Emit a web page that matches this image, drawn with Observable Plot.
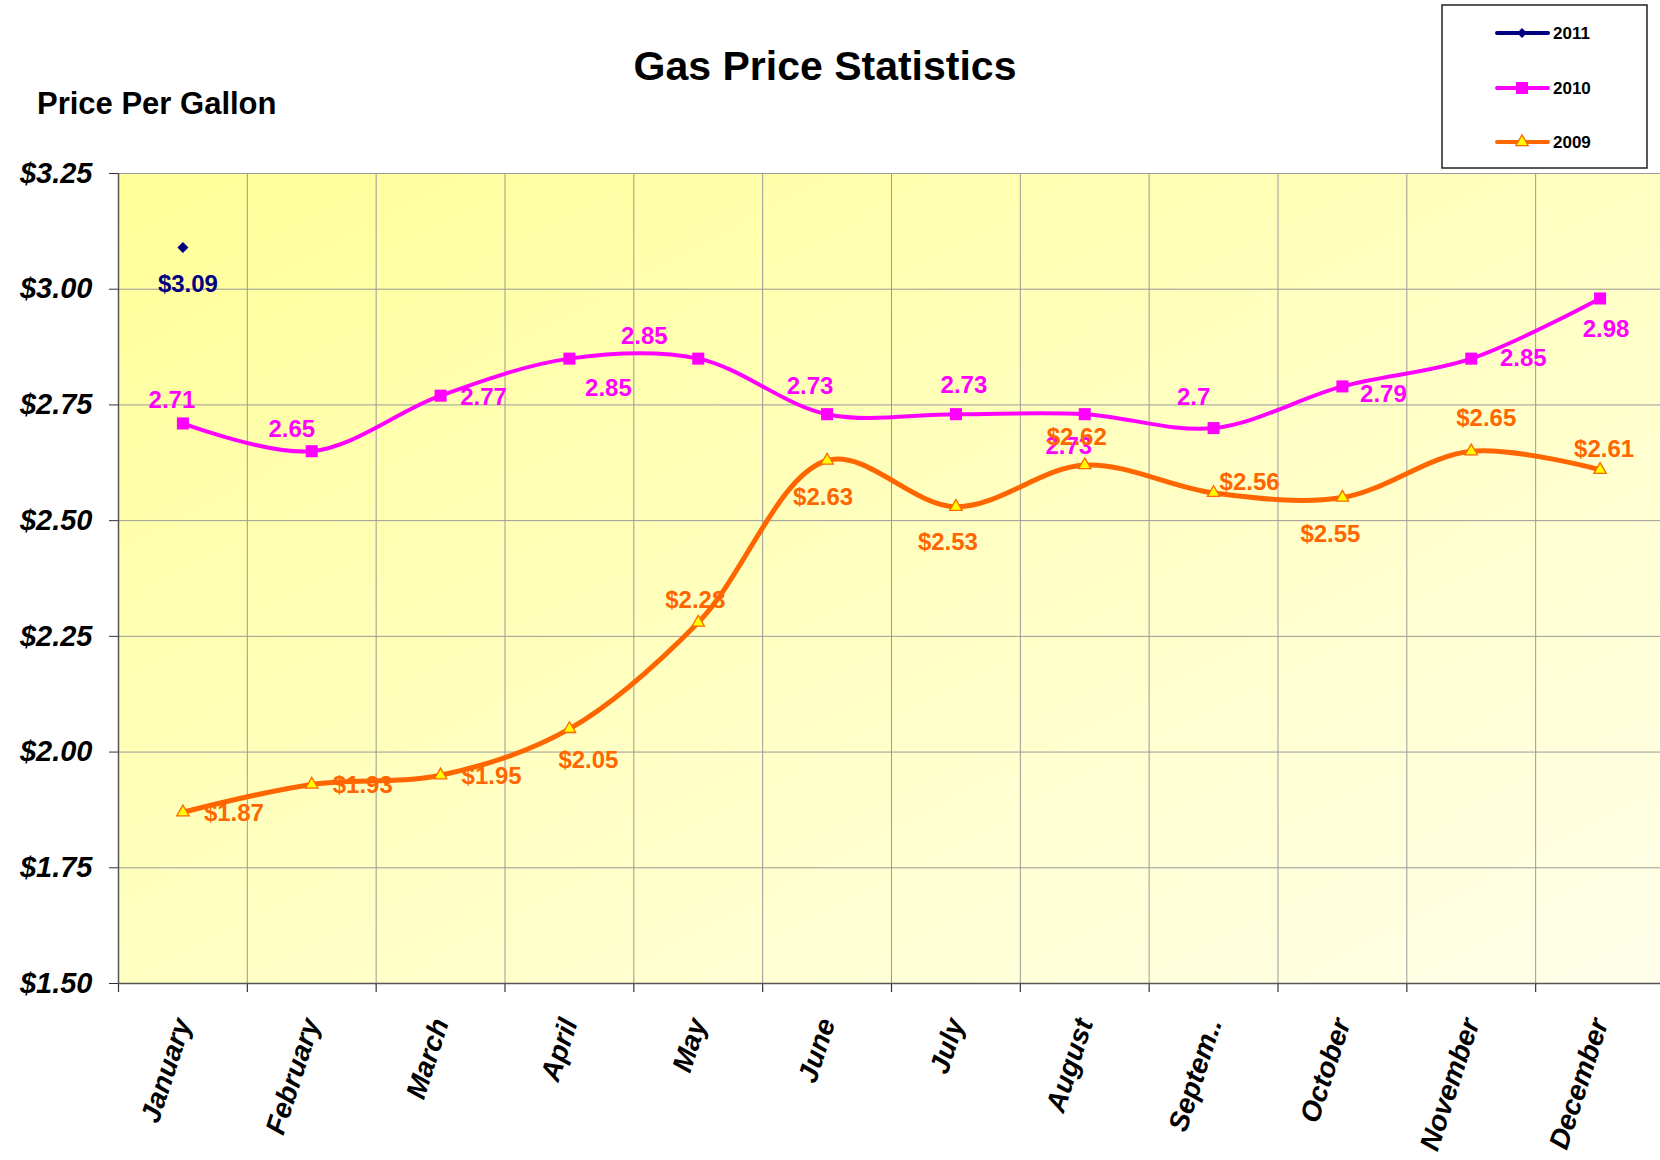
<!DOCTYPE html>
<html>
<head>
<meta charset="utf-8">
<script src="https://cdn.jsdelivr.net/npm/d3@7"></script>
<script src="https://cdn.jsdelivr.net/npm/@observablehq/plot@0.6"></script>
<style>
  body { margin: 0; background: #fff; overflow: hidden; }
  #chart svg { display: block; }
</style>
</head>
<body>
<div id="chart"></div>
<script>
// ---------- data ----------
const months = ["January","February","March","April","May","June","July","August","September","October","November","December"];
const monthLabels = ["January","February","March","April","May","June","July","August","Septem..","October","November","December"];
const months2011 = ["January"];
const prices2011 = [3.09];
const prices2010 = [2.71, 2.65, 2.77, 2.85, 2.85, 2.73, 2.73, 2.73, 2.7, 2.79, 2.85, 2.98];
const prices2009 = [1.87, 1.93, 1.95, 2.05, 2.28, 2.63, 2.53, 2.62, 2.56, 2.55, 2.65, 2.61];
const yTicks = [1.5, 1.75, 2.0, 2.25, 2.5, 2.75, 3.0, 3.25];
const seriesNames = ["2011", "2010", "2009"];

// ---------- styling / label placement (kept apart from the data) ----------
const colors = { "2011": "#000080", "2010": "#FF00FF", "2009": "#FF6600" };
const labelOffsets2011 = [[5, 37]];
const labelOffsets2010 = [[-11,-23],[-20,-22],[43,2],[39,30],[-54,-22],[-17,-28],[8,-29],[-16,32],[-20,-31],[41,8],[52,0],[6,31]];
const labelOffsets2009 = [[51,1],[51,1],[51,1],[19,31],[-3,-22],[-4,37],[-8,36],[-8,-28],[36,-11],[-12,37],[15,-33],[4,-20]];

const W = 1660, H = 1160;
const mL = 118, mR = -4, mT = 173, mB = 177;
const bw = (W - mL - mR) / months.length;
const FONT = "Liberation Sans, Arial, Helvetica, sans-serif";

const data2011 = months2011.map((m, i) => ({ month: m, price: prices2011[i] }));
const data2010 = months.map((m, i) => ({ month: m, price: prices2010[i] }));
const data2009 = months.map((m, i) => ({ month: m, price: prices2009[i] }));

const fmtDollar = d3.format("$.2f");
const fmtPlain = d => String(d);

function labelMarks(data, offsets, fmt, color) {
  return data.map((d, i) => Plot.text([d], {
    x: "month", y: "price", text: r => fmt(r.price),
    dx: offsets[i][0], dy: offsets[i][1],
    fill: color, fontSize: 24, fontWeight: "bold", fontFamily: FONT
  }));
}

const plot = Plot.plot({
  width: W, height: H,
  marginLeft: mL, marginRight: mR, marginTop: mT, marginBottom: mB,
  style: { fontFamily: FONT, background: "transparent", overflow: "hidden" },
  x: { type: "band", domain: months, padding: 0, round: false, axis: null, label: null },
  y: { domain: [1.5, 3.25], axis: null, label: null },
  marks: [
    Plot.frame({ fill: "url(#bgGrad)", stroke: "none" }),
    // horizontal grid
    Plot.ruleY(yTicks, { stroke: "#9a9a9a", strokeWidth: 1 }),
    // vertical grid at band boundaries
    Plot.ruleX(months, { x: d => d, y1: 1.5, y2: 3.25, dx: -bw / 2, stroke: "#9a9a9a", strokeWidth: 1 }),
    // x ticks at band boundaries
    Plot.ruleX(months, { x: d => d, y1: 1.5, y2: 1.5, insetBottom: -9, dx: -bw / 2, stroke: "#333", strokeWidth: 1.2 }),
    // axis lines
    Plot.ruleY([1.5], { stroke: "#555", strokeWidth: 1.5 }),
    Plot.ruleX([months[0]], { x: d => d, y1: 1.5, y2: 3.25, dx: -bw / 2, stroke: "#555", strokeWidth: 1.5 }),
    // lines
    Plot.line(data2010, { x: "month", y: "price", stroke: colors["2010"], strokeWidth: 4, curve: "catmull-rom" }),
    Plot.line(data2009, { x: "month", y: "price", stroke: colors["2009"], strokeWidth: 5, curve: "catmull-rom" }),
    // markers
    Plot.dot(data2010, { x: "month", y: "price", symbol: "square", r: 6.8, fill: colors["2010"], stroke: "none" }),
    Plot.dot(data2009, { x: "month", y: "price", symbol: "triangle", r: 4.6, fill: "#FFFF00", stroke: colors["2009"], strokeWidth: 1.3 }),
    Plot.dot(data2011, { x: "month", y: "price", symbol: "diamond2", r: 5, fill: colors["2011"], stroke: "none" }),
    // value labels
    ...labelMarks(data2011, labelOffsets2011, fmtDollar, colors["2011"]),
    ...labelMarks(data2010, labelOffsets2010, fmtPlain, colors["2010"]),
    ...labelMarks(data2009, labelOffsets2009, fmtDollar, colors["2009"]),
    // axes
    Plot.axisY({ ticks: yTicks, tickFormat: d => fmtDollar(d), tickSize: 9, tickPadding: 17, label: null,
      fontSize: 29, fontWeight: "bold", fontStyle: "italic", fontFamily: FONT, stroke: "#333" }),
    Plot.axisX({ tickSize: 0, tickRotate: -72, tickPadding: 36, label: null,
      tickFormat: d => monthLabels[months.indexOf(d)],
      fontSize: 28, fontWeight: "bold", fontStyle: "italic", fontFamily: FONT })
  ]
});

const svg = d3.select(plot);
// gradient background for plot area
const defs = svg.insert("defs", ":first-child");
const grad = defs.append("linearGradient").attr("id", "bgGrad")
  .attr("x1", "0").attr("y1", "0").attr("x2", "1").attr("y2", "1");
grad.append("stop").attr("offset", "0%").attr("stop-color", "#FFFF99");
grad.append("stop").attr("offset", "55%").attr("stop-color", "#FFFFC6");
grad.append("stop").attr("offset", "100%").attr("stop-color", "#FFFFEA");

// titles
svg.append("text").attr("x", 825).attr("y", 80).attr("text-anchor", "middle")
  .attr("font-family", FONT).attr("font-size", 41).attr("font-weight", "bold").attr("fill", "#000")
  .text("Gas Price Statistics");
svg.append("text").attr("x", 37).attr("y", 114).attr("text-anchor", "start")
  .attr("font-family", FONT).attr("font-size", 31).attr("font-weight", "bold").attr("fill", "#000")
  .text("Price Per Gallon");

// legend
const lg = svg.append("g");
lg.append("rect").attr("x", 1442).attr("y", 5).attr("width", 205).attr("height", 163)
  .attr("fill", "#fff").attr("stroke", "#222").attr("stroke-width", 1.5);
const legendSymbols = {
  "2011": { type: d3.symbolDiamond2, size: Math.PI * 4.5 * 4.5, fill: colors["2011"], stroke: "none" },
  "2010": { type: d3.symbolSquare, size: Math.PI * 6.8 * 6.8, fill: colors["2010"], stroke: "none" },
  "2009": { type: d3.symbolTriangle, size: Math.PI * 4.6 * 4.6, fill: "#FFFF00", stroke: colors["2009"] }
};
const legendY = [33, 88, 142];
seriesNames.forEach((name, i) => {
  const y = legendY[i];
  lg.append("line").attr("x1", 1497).attr("x2", 1548).attr("y1", y).attr("y2", y)
    .attr("stroke", colors[name]).attr("stroke-width", 4).attr("stroke-linecap", "round");
  const s = legendSymbols[name];
  lg.append("path").attr("transform", `translate(1522,${y})`)
    .attr("d", d3.symbol(s.type, s.size)()).attr("fill", s.fill).attr("stroke", s.stroke).attr("stroke-width", 1.3);
  lg.append("text").attr("x", 1553).attr("y", y).attr("dy", "0.35em").attr("text-anchor", "start")
    .attr("font-family", FONT).attr("font-size", 17).attr("font-weight", "bold").attr("fill", "#000")
    .text(name);
});

document.getElementById("chart").appendChild(plot);
</script>
</body>
</html>
